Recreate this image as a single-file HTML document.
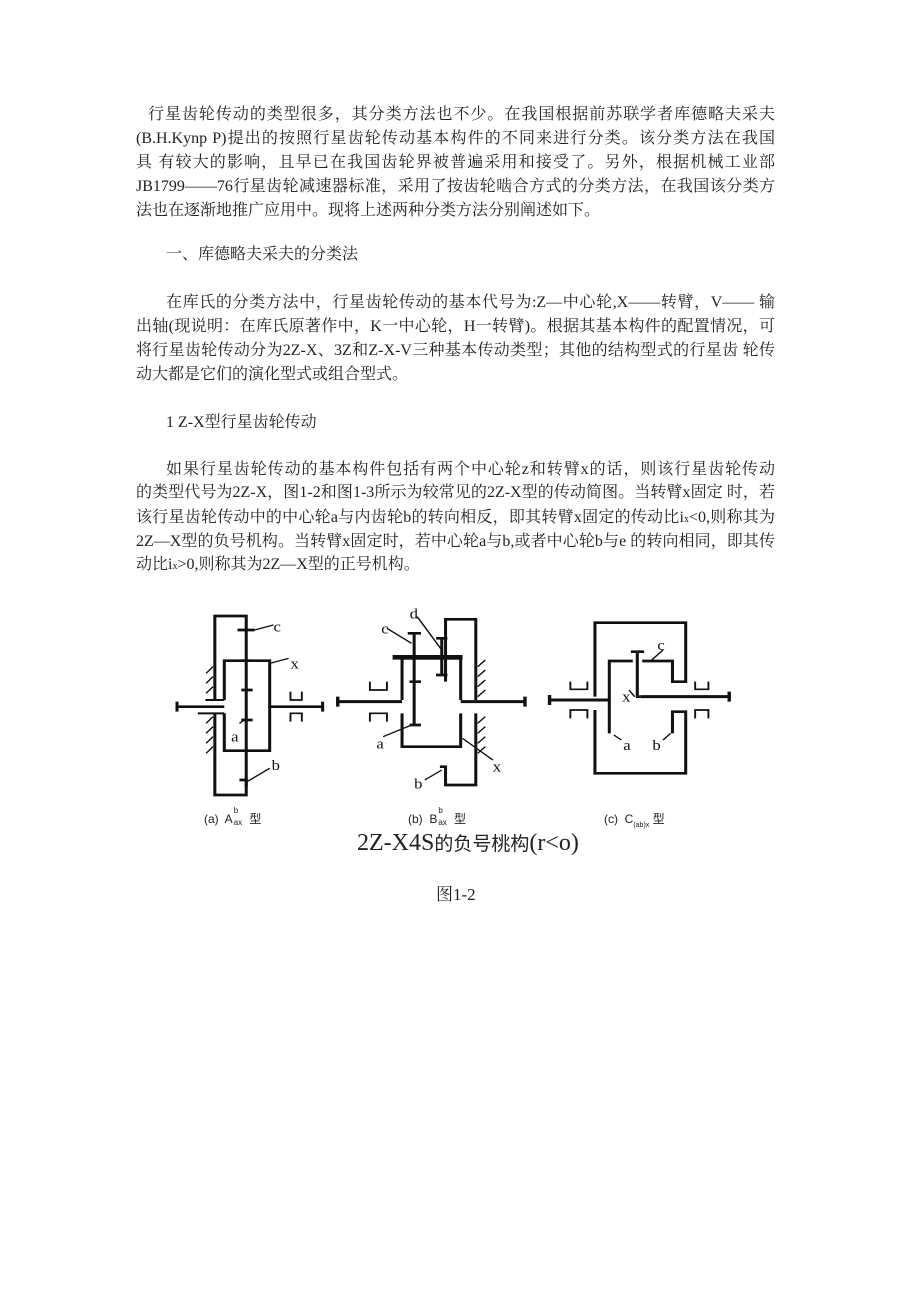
<!DOCTYPE html>
<html><head><meta charset="utf-8"><style>
body{margin:0;background:#fff;width:920px;height:1302px;position:relative;overflow:hidden;font-family:"Liberation Serif","Noto Serif CJK SC",serif;color:#222;}
.l{position:absolute;font-size:16px;line-height:20px;white-space:nowrap;height:20px;}
.j{text-align:justify;text-align-last:justify;white-space:normal;overflow:hidden;}
.s{position:absolute;font-family:"Liberation Sans","Noto Sans CJK SC",sans-serif;font-size:12px;color:#222;white-space:nowrap;}
.s sup,.s sub{font-size:8px;}
</style></head><body>
<div class="l j" style="left:148px;top:105px;width:627px">行星齿轮传动的类型很多，其分类方法也不少。在我国根据前苏联学者库德略夫采夫</div>
<div class="l j" style="left:136px;top:129px;width:639px">(B.H.Kynp P)提出的按照行星齿轮传动基本构件的不同来进行分类。该分类方法在我国</div>
<div class="l j" style="left:136px;top:153px;width:639px">具 有较大的影响，且早已在我国齿轮界被普遍采用和接受了。另外，根据机械工业部</div>
<div class="l j" style="left:136px;top:177px;width:639px">JB1799——76行星齿轮减速器标准，采用了按齿轮啮合方式的分类方法，在我国该分类方</div>
<div class="l" style="left:136px;top:201px">法也在逐渐地推广应用中。现将上述两种分类方法分别阐述如下。</div>
<div class="l" style="left:166px;top:245px">一、库德略夫采夫的分类法</div>
<div class="l j" style="left:166px;top:293px;width:609px">在库氏的分类方法中，行星齿轮传动的基本代号为:Z—中心轮,X——转臂，V—— 输</div>
<div class="l j" style="left:136px;top:317px;width:639px">出轴(现说明：在库氏原著作中，K一中心轮，H一转臂)。根据其基本构件的配置情况，可</div>
<div class="l j" style="left:136px;top:341px;width:639px">将行星齿轮传动分为2Z-X、3Z和Z-X-V三种基本传动类型；其他的结构型式的行星齿 轮传</div>
<div class="l" style="left:136px;top:365px">动大都是它们的演化型式或组合型式。</div>
<div class="l" style="left:166px;top:413px">1 Z-X型行星齿轮传动</div>
<div class="l j" style="left:166px;top:460px;width:609px">如果行星齿轮传动的基本构件包括有两个中心轮z和转臂x的话，则该行星齿轮传动</div>
<div class="l j" style="left:136px;top:483px;width:639px">的类型代号为2Z-X，图1-2和图1-3所示为较常见的2Z-X型的传动简图。当转臂x固定 时，若</div>
<div class="l j" style="left:136px;top:508px;width:639px">该行星齿轮传动中的中心轮a与内齿轮b的转向相反，即其转臂x固定的传动比i<span style="font-size:10px">x</span>&lt;0,则称其为</div>
<div class="l j" style="left:136px;top:532px;width:639px">2Z—X型的负号机构。当转臂x固定时，若中心轮a与b,或者中心轮b与e 的转向相同，即其传</div>
<div class="l" style="left:136px;top:555px">动比i<span style="font-size:10px">x</span>&gt;0,则称其为2Z—X型的正号机构。</div>

<svg style="position:absolute;left:160px;top:600px" width="590" height="260" viewBox="0 0 1560 780" preserveAspectRatio="none">
<g fill="none" stroke="#111" stroke-width="8">
<!-- (a) -->
<path d="M145,300V48H228V560"/>
<path d="M205,90H250M215,182H240M215,270H245M215,360H245"/>
<path d="M170,300V182H290V452H170V340"/>
<path d="M145,340V585H228V540H210"/>
<path d="M45,320H170M290,320H430M45,305V335M430,305V335"/>
<path d="M120,300H170M100,340H170" stroke-width="6"/>
<path d="M345,275V300H375V275M345,365V340H375V365" stroke-width="5"/>
<path d="M140,200L122,220M140,230L122,250M140,260L122,280M140,350L122,370M140,380L122,400M140,410L122,430M140,440L122,460" stroke-width="4"/>
<path d="M250,90L300,75M290,190L340,175M210,370L228,355M230,545L290,505" stroke-width="4"/>
<!-- (b) -->
<path d="M755,245V58H835V300M835,340V555H755V500H740"/>
<path d="M640,300V175H795V300M640,340V440H795V340"/>
<path d="M615,172H800" stroke-width="14"/>
<path d="M672,100V375M655,100H690M660,245H690M660,375H690"/>
<path d="M745,115V225M730,115H760M730,225H760"/>
<path d="M470,305H640M795,305H965M470,290V320M965,290V320" stroke-width="9"/>
<path d="M555,245V270H600V245M555,365V340H600V365" stroke-width="5"/>
<path d="M860,180L840,200M860,210L840,230M860,240L840,260M860,270L840,290M860,350L840,370M860,380L840,400M860,410L840,430M860,440L840,460" stroke-width="4"/>
<path d="M600,85L665,130M680,50L745,150M590,410L665,375M800,415L880,480M700,540L745,510" stroke-width="4"/>
<!-- (c) -->
<path d="M1150,290V68H1390V245H1355V183H1275"/>
<path d="M1150,330V520H1390V335H1355V400"/>
<path d="M1188,400V183H1250M1262,155V290H1270M1245,155H1280"/>
<path d="M1030,300H1190M1270,290H1505M1030,285V315M1505,275V305" stroke-width="9"/>
<path d="M1085,245V268H1130V245M1085,355V330H1130V355M1415,245V268H1450V245M1415,355V330H1450V355" stroke-width="5"/>
<path d="M1300,180L1330,150M1240,270L1255,290M1200,405L1220,420M1350,400L1330,420" stroke-width="4"/>
</g>
<g font-family="Liberation Serif,serif" font-size="44" fill="#111">
<text x="300" y="95">c</text><text x="345" y="205">x</text><text x="188" y="425">a</text><text x="295" y="510">b</text>
<text x="585" y="100">c</text><text x="660" y="55">d</text><text x="572" y="445">a</text><text x="880" y="515">x</text><text x="672" y="565">b</text>
<text x="1315" y="150">c</text><text x="1222" y="305">x</text><text x="1225" y="450">a</text><text x="1302" y="450">b</text>
</g>
</svg>
<div class="s" style="left:204px;top:810px">(a)&nbsp; A<span style="position:relative"><span style="position:absolute;left:1px;top:-6px;font-size:8px">b</span><span style="position:absolute;left:1px;top:6px;font-size:8px">ax</span></span>&nbsp;&nbsp;&nbsp;&nbsp; 型</div>
<div class="s" style="left:408px;top:810px">(b)&nbsp; B<span style="position:relative"><span style="position:absolute;left:1px;top:-6px;font-size:8px">b</span><span style="position:absolute;left:1px;top:6px;font-size:8px">ax</span></span>&nbsp;&nbsp;&nbsp;&nbsp; 型</div>
<div class="s" style="left:604px;top:810px">(c)&nbsp; C<span style="font-size:7px;position:relative;top:4px">(ab)x</span> 型</div>
<div class="l" style="left:357px;top:829px;font-size:24px;line-height:28px;height:28px">2Z-X4S<span style="font-size:19px;font-family:'Noto Sans CJK SC',sans-serif">的负号桃构</span>(r&lt;o)</div>
<div class="l" style="left:436px;top:885px;font-size:17px">图1-2</div>
</body></html>
